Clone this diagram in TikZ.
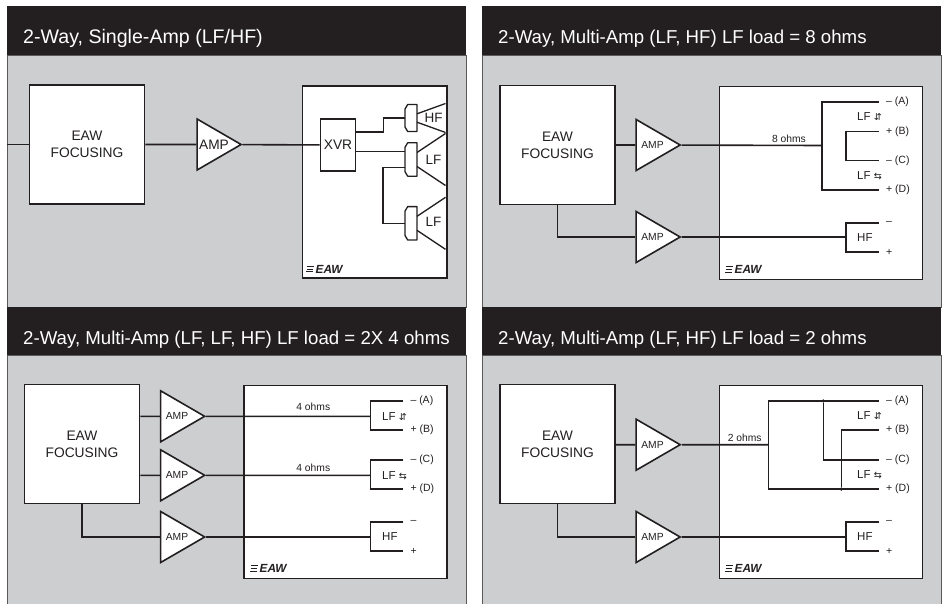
\documentclass[tikz,border=0pt]{standalone}
\usepackage{fontspec}
\setmainfont{Liberation Sans}
\newfontfamily\arrowfont{DejaVu Sans}
\usetikzlibrary{positioning,shapes.geometric}
\definecolor{inkblack}{HTML}{231F20}
\definecolor{panelgray}{HTML}{CCCED0}
\tikzset{every node/.style={text=inkblack}}
\tikzstyle{panel} = [rectangle, minimum width=459pt, minimum height=252pt, anchor=north west, inner sep=0pt, draw=black!65, line width=1pt, fill=panelgray]
\tikzstyle{head} = [rectangle, minimum width=459pt, minimum height=49pt, anchor=north west, inner sep=0pt, fill=inkblack]
\tikzstyle{title} = [anchor=west, inner sep=0pt, xshift=16pt, yshift=-8pt, text=white, font=\fontsize{18.65}{22}\selectfont]
\tikzstyle{focus} = [rectangle, minimum width=115pt, minimum height=119pt, align=center, inner sep=0pt, draw=inkblack, line width=1.6pt, fill=white, font=\fontsize{13.8}{17}\selectfont]
\tikzstyle{amp} = [isosceles triangle, isosceles triangle apex angle=60, isosceles triangle stretches, minimum width=51pt, minimum height=44pt, inner sep=0pt, draw=inkblack, line width=1.6pt, fill=white, font=\fontsize{10.3}{12}\selectfont]
\tikzstyle{cabinet} = [rectangle, minimum width=203pt, minimum height=193pt, anchor=north west, inner sep=0pt, draw=inkblack, line width=1.6pt, fill=white]
\tikzstyle{xover} = [rectangle, minimum width=35pt, minimum height=52pt, inner sep=0pt, draw=inkblack, line width=1.6pt, fill=white, font=\fontsize{13.8}{17}\selectfont]
\tikzstyle{wire} = [draw=inkblack, line width=1.6pt]
\tikzstyle{thin} = [draw=inkblack, line width=1.3pt, line join=round]
\tikzstyle{load} = [inner sep=0pt, font=\fontsize{10.3}{12}\selectfont]
\tikzstyle{term} = [anchor=west, inner ysep=0pt, inner xsep=7pt, font=\fontsize{10.5}{12}\selectfont]
\tikzstyle{way} = [anchor=west, inner sep=0pt, font=\fontsize{11.5}{13}\selectfont]
\tikzstyle{drv} = [inner sep=0pt, font=\fontsize{13.5}{15}\selectfont]
\tikzstyle{logo} = [anchor=west, inner sep=0pt, font=\fontsize{11.8}{12}\bfseries\itshape\selectfont]
\tikzstyle{dot} = [circle, inner sep=0pt, minimum size=3.6pt, fill=inkblack]
\newcommand{\lfsign}{{\arrowfont\fontsize{9.5}{10}\selectfont ⇵}}
\newcommand{\hfsign}{{\arrowfont\fontsize{9.5}{10}\selectfont ⇆}}
% name, x, y, half height of the magnet, half throat, half mouth
\newcommand{\speaker}[6]{%
  \begin{scope}[shift={(#2,#3)}]
    \draw [thin] (0,{-#4+4.5}) -- (2.7,-#4) -- (12,-#4) -- (12,#4) -- (2.7,#4) -- (0,{#4-4.5}) -- cycle;
    \draw [thin] (12,-#5) -- (40.5,-#6);
    \draw [thin] (12,#5) -- (40.5,#6);
    \coordinate (#1) at (0,0);
    \coordinate (#1up) at (0,-8);
    \coordinate (#1down) at (0,8);
  \end{scope}}
\newcommand{\eawmark}[2]{%
  \node (#1) [logo] at #2 {\hspace{9.5pt}EAW};
  \draw [line width=.7pt,draw=inkblack] (#1.west) ++(1,-2.8) -- ++(7,0) (#1.west) ++(.5,0) -- ++(6.5,0) (#1.west) ++(0,2.8) -- ++(7,0);}

\begin{document}
\begin{tikzpicture}[x=1pt,y=-1pt,node distance=100pt]
\useasboundingbox (0,0) rectangle (946,603);
% top left
\node (panela) [panel] at (7,55) {};
\node (heada) [head] at (7,6) {};
\node (titlea) [title,font=\fontsize{19.6}{22}\selectfont] at (heada.west) {2-Way, Single-Amp (LF/HF)};
\node (focusa) [focus] at (87,144.5) {EAW\\FOCUSING};
\node (ampa) [amp,right of=focusa,node distance=127pt,font=\fontsize{13.7}{15}\selectfont] {AMP};
\node (caba) [cabinet,minimum width=144.5pt,minimum height=192pt] at (301.5,85) {};
\node (xvr) [xover] at (338,145) {XVR};
\speaker{hf}{405}{118}{13.5}{4.2}{14.5}
\speaker{lfa}{405}{159.5}{16.7}{7}{26}
\speaker{lfb}{405}{223.3}{16.7}{7}{26}
\node (hflabel) [drv] at (433.5,118) {HF};
\node (lfalabel) [drv] at (433.5,160) {LF};
\node (lfblabel) [drv] at (433.5,222) {LF};
\eawmark{logoa}{(306,269)}
\coordinate (inputa) at (panela.north west |- focusa);
\draw [wire] (inputa) -- (focusa);
\draw [wire] (focusa) -- (ampa);
\draw [wire] (ampa) -- (xvr);
\draw [wire] (xvr.east) ++(0,-13) -- ++(27,0) |- (hf);
\draw [wire] (xvr.east |- lfaup) -- (lfaup);
\draw [wire] (lfadown) -- ++(-22,0) |- (lfb);
% top right
\node (panelb) [panel] at (482,55) {};
\node (headb) [head] at (482,6) {};
\node (titleb) [title] at (headb.west) {2-Way, Multi-Amp (LF, HF) LF load = 8 ohms};
\node (focusb) [focus] at (557.5,145) {EAW\\FOCUSING};
\node (ampb) [amp,right of=focusb,node distance=95pt] {AMP};
\node (ampc) [amp,below of=ampb,node distance=92pt] {AMP};
\node (cabb) [cabinet] at (718.7,85.5) {};
\node (ta) [term] at (879,102) {– (A)};
\node (tb) [term] at (879,131.5) {+ (B)};
\node (tc) [term] at (879,160.5) {– (C)};
\node (td) [term] at (879,190) {+ (D)};
\node (te) [term] at (879,223) {–};
\node (tf) [term] at (879,252) {+};
\node (wayb) [way] at (857,117) {LF \lfsign};
\node (wayc) [way] at (857,176) {LF \hfsign};
\node (hfb) [way] at (857,237.5) {HF};
\node (ohmb) [load] at (789,139) {8 ohms};
\eawmark{logob}{(725,269.5)}
\coordinate (joinb) at (822,145.5);
\draw [wire] (focusb) -- (ampb);
\draw [wire] (ampb) -- (joinb);
\draw [wire] (ta.west) -| (joinb) |- (td.west);
\draw [wire] (tb.west) -- ++(-33,0) |- (tc.west);
\draw [wire] (focusb) |- (ampc);
\draw [wire] (ampc) -- (846,237);
\draw [wire] (te.west) -- ++(-33,0) |- (tf.west);
% bottom left
\node (paneld) [panel,minimum height=260pt] at (7,355) {};
\node (headd) [head,minimum height=48pt] at (7,307) {};
\node (titled) [title] at (headd.west) {2-Way, Multi-Amp (LF, LF, HF) LF load = 2X 4 ohms};
\node (focusd) [focus] at (82,444) {EAW\\FOCUSING};
\node (ampd) [amp,right of=focusd,node distance=95pt,yshift=27.7pt] {AMP};
\node (ampe) [amp,right of=focusd,node distance=95pt,yshift=-31.3pt] {AMP};
\node (ampf) [amp,right of=focusd,node distance=95pt,yshift=-93pt] {AMP};
\node (cabd) [cabinet] at (243,384.7) {};
\node (da) [term] at (403.3,401) {– (A)};
\node (db) [term] at (403.3,430) {+ (B)};
\node (dc) [term] at (403.3,460) {– (C)};
\node (dd) [term] at (403.3,489) {+ (D)};
\node (de) [term] at (403.3,522) {–};
\node (df) [term] at (403.3,551) {+};
\node (wayd) [way] at (382,416.3) {LF \lfsign};
\node (waye) [way] at (382,475.3) {LF \hfsign};
\node (hfd) [way] at (382,537) {HF};
\node (ohmd) [load] at (313.3,407.3) {4 ohms};
\node (ohme) [load] at (313.3,468.3) {4 ohms};
\eawmark{logod}{(250,568.5)}
\draw [wire] (focusd.east |- ampd) -- (ampd);
\draw [wire] (focusd.east |- ampe) -- (ampe);
\draw [wire] (focusd) |- (ampf);
\draw [wire] (da.west) -- ++(-33,0) |- (db.west);
\draw [wire] (dc.west) -- ++(-33,0) |- (dd.west);
\draw [wire] (de.west) -- ++(-33,0) |- (df.west);
\draw [wire] (ampd) -- (370.3,416.3);
\draw [wire] (ampe) -- (370.3,475.3);
\draw [wire] (ampf) -- (370.3,537);
% bottom right
\node (panelg) [panel,minimum height=260pt] at (482,355) {};
\node (headg) [head,minimum height=48pt] at (482,307) {};
\node (titleg) [title] at (headg.west) {2-Way, Multi-Amp (LF, HF) LF load = 2 ohms};
\node (focusg) [focus] at (557.5,444) {EAW\\FOCUSING};
\node (ampg) [amp,right of=focusg,node distance=95pt,yshift=-.7pt] {AMP};
\node (amph) [amp,right of=focusg,node distance=95pt,yshift=-93pt] {AMP};
\node (cabg) [cabinet] at (718.7,384.7) {};
\node (ga) [term] at (879,401) {– (A)};
\node (gb) [term] at (879,430) {+ (B)};
\node (gc) [term] at (879,460) {– (C)};
\node (gd) [term] at (879,489) {+ (D)};
\node (ge) [term] at (879,522) {–};
\node (gf) [term] at (879,551) {+};
\node (wayg) [way] at (857,416) {LF \lfsign};
\node (wayh) [way] at (857,475) {LF \hfsign};
\node (hfg) [way] at (857,537) {HF};
\node (ohmg) [load] at (744.7,438.3) {2 ohms};
\eawmark{logog}{(725,568.5)}
\node (dotg) [dot] at (823.3,401) {};
\node (doth) [dot] at (841.3,489) {};
\coordinate (joing) at (768.3,444.7);
\draw [wire] (focusg.east |- ampg) -- (ampg);
\draw [wire] (focusg) |- (amph);
\draw [wire] (ampg) -- (joing);
\draw [wire] (ga.west) -| (joing) |- (gd.west);
\draw [wire] (dotg) |- (gc.west);
\draw [wire] (gb.west) -| (doth);
\draw [wire] (amph) -- (846,537);
\draw [wire] (ge.west) -- ++(-33,0) |- (gf.west);
\end{tikzpicture}
\end{document}
